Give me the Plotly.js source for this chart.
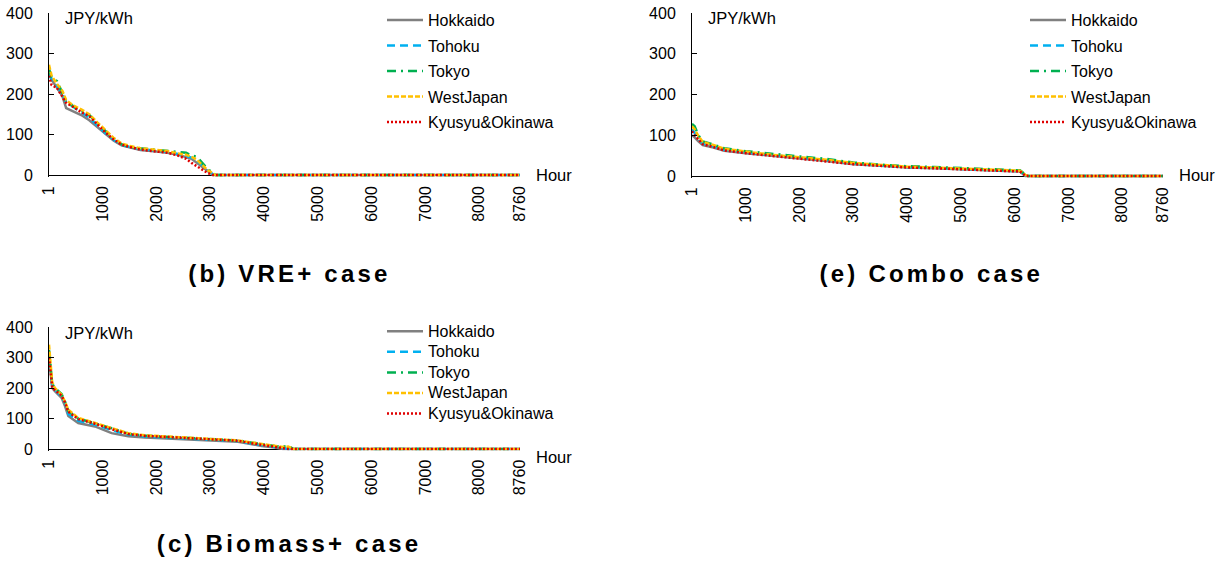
<!DOCTYPE html>
<html><head><meta charset="utf-8">
<script src="https://cdn.plot.ly/plotly-3.0.1.min.js"></script>
<style>
html,body{margin:0;padding:0;background:#fff;}
#chart{width:1223px;height:562px;}
</style></head><body><div id="chart"></div>
<script>
// ---------- DATA ----------
const regions = ['Hokkaido','Tohoku','Tokyo','WestJapan','Kyusyu&Okinawa'];
const xTickVals = [1,1000,2000,3000,4000,5000,6000,7000,8000,8760];
const xTickText = ['1','1000','2000','3000','4000','5000','6000','7000','8000','8760'];
const yTickVals = [0,100,200,300,400];

// (b) VRE+ case
const hoursVRE = [1,50,150,250,320,450,600,750,900,1050,1200,1350,1500,1700,2000,2200,2400,2550,2650,2750,2850,2950,3050,3100,8760];
const vreHokkaido = [255,235,215,195,165,158,148,135,118,100,85,73,68,62,58,55,50,45,40,30,20,10,0,0,0];
const vreTohoku   = [250,235,220,200,180,168,155,142,122,103,87,74,69,64,60,57,52,47,43,35,25,12,2,0,0];
const vreTokyo    = [262,240,232,205,182,170,158,148,128,108,90,76,70,66,62,60,56,55,48,45,30,15,5,0,0];
const vreWest     = [272,245,225,208,185,172,162,150,130,110,92,78,72,66,62,59,53,50,45,38,25,12,4,0,0];
const vreKyusyu   = [245,222,215,195,178,168,155,145,125,105,88,75,69,63,58,55,48,40,30,22,15,5,0,0,0];

// (e) Combo case
const hoursCombo = [1,50,120,200,400,600,1000,1500,2000,2500,3000,3500,4000,4500,5000,5500,6100,6200,6250,8760];
const comboHokkaido = [100,95,85,76,70,62,56,49,43,37,29,25,21,19,17,14,11,0,0,0];
const comboTohoku   = [115,105,92,80,73,65,58,51,45,39,31,26,22,20,18,15,12,2,0,0];
const comboTokyo    = [128,122,100,85,77,68,61,54,48,42,33,28,24,22,20,17,14,4,0,0];
const comboWest     = [122,115,98,84,76,67,60,52,46,40,32,27,23,21,19,16,13,3,0,0];
const comboKyusyu   = [110,100,90,78,71,63,56,49,43,36,29,25,21,19,17,14,11,1,0,0];

// (c) Biomass+ case
const hoursBio = [1,30,60,110,235,300,360,545,855,1165,1475,1785,2405,3025,3515,3700,3955,4200,4350,4450,4550,8760];
const bioHokkaido = [300,250,200,190,168,140,108,85,74,52,42,38,33,28,24,18,10,5,0,0,0,0];
const bioTohoku   = [320,270,210,195,172,150,115,92,80,62,47,41,36,30,26,20,13,8,3,0,0,0];
const bioTokyo    = [325,280,215,200,180,155,125,100,85,68,50,44,38,32,28,23,16,10,8,10,0,0];
const bioWest     = [342,290,220,200,178,155,129,102,85,69,52,45,39,34,28,23,16,10,7,8,0,0];
const bioKyusyu   = [300,260,205,193,175,152,122,98,83,65,49,43,37,31,27,21,14,7,2,0,0,0];

// ---------- STYLE ----------
const W = 1223, H = 562;
const fx = p => p / W, fy = p => 1 - p / H;
const FONT = 'Liberation Sans, Arial, sans-serif';
const lineStyles = [
  {color:'#808080', dash:'solid'},
  {color:'#00B0F0', dash:'8px,5px'},
  {color:'#00B050', dash:'9px,5px,2px,5px'},
  {color:'#FFC000', dash:'5px,2px'},
  {color:'#E00000', dash:'2px,2px'}
];

const panels = [
  {id:'', hours:hoursVRE, series:[vreHokkaido,vreTohoku,vreTokyo,vreWest,vreKyusyu],
   left:49, right:520, top:13, zero:175, legend:'legend', legX:382, legY:3, legFont:16, gap:1.7,
   title:'(b) VRE+ case', tx:289, ty:273, unitX:63, unitY:18, hourX:534, hourY:175},
  {id:'2', hours:hoursCombo, series:[comboHokkaido,comboTohoku,comboTokyo,comboWest,comboKyusyu],
   left:692, right:1163, top:13, zero:176, legend:'legend2', legX:1025, legY:3, legFont:16, gap:1.7,
   title:'(e) Combo case', tx:931, ty:273, unitX:706, unitY:18, hourX:1177, hourY:175},
  {id:'3', hours:hoursBio, series:[bioHokkaido,bioTohoku,bioTokyo,bioWest,bioKyusyu],
   left:49, right:520, top:327, zero:449, legend:'legend3', legX:382, legY:316, legFont:13.5, gap:0,
   title:'(c) Biomass+ case', tx:289, ty:543, unitX:63, unitY:333, hourX:534, hourY:457}
];

const traces = [];
const layout = {
  width: W, height: H, margin:{l:0,r:0,t:0,b:0},
  paper_bgcolor:'#fff', plot_bgcolor:'rgba(0,0,0,0)',
  font:{family:FONT, size:16, color:'#000'},
  annotations: [], showlegend: true
};
const YMIN = -5;
panels.forEach((p, pi) => {
  const xa = 'x' + p.id, ya = 'y' + p.id;
  p.series.forEach((vals, si) => {
    const label = p.legFont === 16 ? regions[si]
      : '<span style="font-size:16px">' + regions[si] + '</span>';
    traces.push({
      type:'scatter', mode:'lines', x:p.hours, y:vals, name:label,
      xaxis:xa, yaxis:ya, legend:p.legend, legendgroup:p.legend + '_' + si,
      line:{color:lineStyles[si].color, dash:lineStyles[si].dash, width:2.5},
      hoverinfo:'skip'
    });
  });
  const bottomPx = p.zero + (-YMIN) * (p.zero - p.top) / 400;
  layout['xaxis' + p.id] = {
    domain:[fx(p.left), fx(p.right)], anchor:ya, range:[1, 8760],
    tickmode:'array', tickvals:xTickVals, ticktext:xTickText, tickangle:-90,
    showline:false, showgrid:false, zeroline:false, ticks:'',
    ticklabelstandoff:5, tickfont:{size:16, family:FONT, color:'#000'}, fixedrange:true
  };
  layout['yaxis' + p.id] = {
    domain:[fy(bottomPx), fy(p.top)], anchor:xa, range:[YMIN, 400],
    tickmode:'array', tickvals:yTickVals, showline:true, linecolor:'#000', linewidth:1,
    ticks:'inside', ticklen:5, tickcolor:'#000', showgrid:false,
    zeroline:true, zerolinecolor:'#000', zerolinewidth:1,
    ticklabelstandoff:12, tickfont:{size:16, family:FONT, color:'#000'}, fixedrange:true
  };
  layout[p.legend] = {
    x: fx(p.legX), xanchor:'left', y: fy(p.legY), yanchor:'top',
    bgcolor:'rgba(0,0,0,0)', borderwidth:0, itemwidth:36,
    font:{family:FONT, size:p.legFont, color:'#000'},
    tracegroupgap:p.gap, traceorder:'grouped'
  };
  layout.annotations.push(
    {xref:'paper', yref:'paper', x:fx(p.tx), y:fy(p.ty), xanchor:'center', yanchor:'middle',
     text:'<b>' + p.title + '</b>', showarrow:false, font:{size:24, family:FONT, color:'#000'}},
    {xref:'paper', yref:'paper', x:fx(p.unitX), y:fy(p.unitY), xanchor:'left', yanchor:'middle',
     text:'JPY/kWh', showarrow:false, font:{size:16.5, family:FONT, color:'#000'}},
    {xref:'paper', yref:'paper', x:fx(p.hourX), y:fy(p.hourY), xanchor:'left', yanchor:'middle',
     text:'Hour', showarrow:false, font:{size:16.5, family:FONT, color:'#000'}}
  );
});

Plotly.newPlot('chart', traces, layout, {staticPlot:true, displayModeBar:false}).then(() => {
  document.querySelectorAll('text.annotation-text').forEach(t => {
    if (t.textContent.charAt(0) === '(') t.style.letterSpacing = '3.2px';
  });
});
</script></body></html>
